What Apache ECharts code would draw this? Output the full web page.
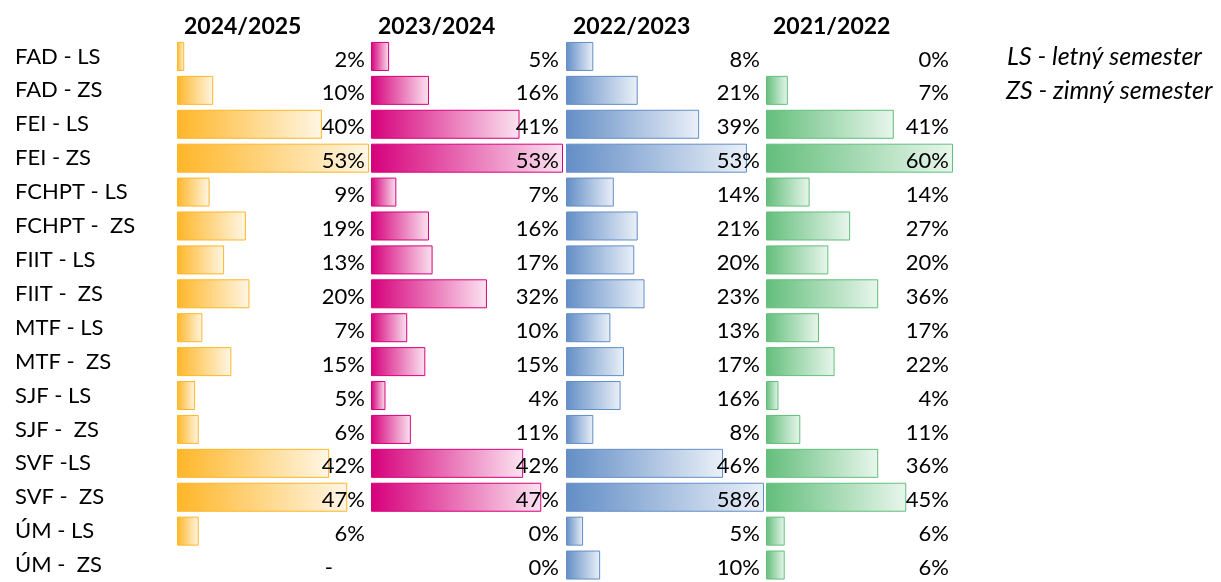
<!DOCTYPE html>
<html>
<head>
<meta charset="utf-8">
<script src="https://cdn.jsdelivr.net/npm/echarts@6/dist/echarts.min.js"></script>
<style>
  html, body { margin: 0; padding: 0; background: #fff; }
  #chart { width: 1221px; height: 582px; }
</style>
</head>
<body>
<div id="chart"></div>
<script>
/* global echarts */
const categories = [
  'FAD - LS', 'FAD - ZS', 'FEI - LS', 'FEI - ZS', 'FCHPT - LS', 'FCHPT -  ZS',
  'FIIT - LS', 'FIIT -  ZS', 'MTF - LS', 'MTF -  ZS', 'SJF - LS', 'SJF -  ZS',
  'SVF -LS', 'SVF -  ZS', 'ÚM - LS', 'ÚM -  ZS'
];
const years = ['2024/2025', '2023/2024', '2022/2023', '2021/2022'];
const values2425 = [2, 10, 40, 53, 9, 19, 13, 20, 7, 15, 5, 6, 42, 47, 6, null];
const values2324 = [5, 16, 41, 53, 7, 16, 17, 32, 10, 15, 4, 11, 42, 47, 0, 0];
const values2223 = [8, 21, 39, 53, 14, 21, 20, 23, 13, 17, 16, 8, 46, 58, 5, 10];
const values2122 = [0, 7, 41, 60, 14, 27, 20, 36, 17, 22, 4, 11, 36, 45, 6, 6];
const notes = ['LS - letný semester', 'ZS - zimný semester'];

const FONT = 'Lato';
const panels = [
  { data: values2425, left: 177, width: 192, color: '#FFB628', light: '#FFF6E4' },
  { data: values2324, left: 371, width: 192, color: '#D6007B', light: '#FBE3F0' },
  { data: values2223, left: 566, width: 198, color: '#638EC6', light: '#EAF0F8' },
  { data: values2122, left: 766, width: 187, color: '#63BE7B', light: '#E8F6EC' }
];

const chart = echarts.init(document.getElementById('chart'));

const grids = [];
const xAxes = [];
const yAxes = [];
const series = [];
const titles = [];

panels.forEach((p, i) => {
  const max = Math.max(...p.data.filter(v => v !== null));
  grids.push({ left: p.left, width: p.width, top: 39.5, height: 548.8 });
  xAxes.push({ gridIndex: i, type: 'value', min: 0, max: max, show: false });
  yAxes.push({
    gridIndex: i,
    type: 'category',
    inverse: true,
    data: categories,
    axisLine: { show: false },
    axisTick: { show: false },
    axisLabel: {
      show: i === 0,
      align: 'left',
      margin: 162,
      fontFamily: FONT,
      fontSize: 22,
      color: '#000',
      padding: [6, 0, 0, 0]
    }
  });
  // the coloured data bars (no bar for 0 or missing values)
  series.push({
    type: 'bar',
    xAxisIndex: i,
    yAxisIndex: i,
    barWidth: 29,
    data: p.data.map(v => (v ? v : '-')),
    itemStyle: {
      color: new echarts.graphic.LinearGradient(0, 0, 1, 0, [
        { offset: 0, color: p.color },
        { offset: 1, color: p.light }
      ]),
      borderColor: p.color,
      borderWidth: 1
    },
    silent: true,
    z: 2
  });
  // invisible full-width bars carrying the right-aligned value labels
  series.push({
    type: 'bar',
    xAxisIndex: i,
    yAxisIndex: i,
    barWidth: 29,
    barGap: '-100%',
    data: p.data.map(() => max),
    itemStyle: { color: 'rgba(0,0,0,0)' },
    label: {
      show: true,
      position: 'insideRight',
      distance: 4,
      fontFamily: FONT,
      fontSize: 22,
      color: '#000',
      padding: [6, 0, 0, 0],
      formatter: params => {
        const v = p.data[params.dataIndex];
        return v === null ? '{dash|-}' : v + '%';
      },
      rich: {
        dash: { fontFamily: FONT, fontSize: 22, color: '#000', padding: [0, 32, 0, 0] }
      }
    },
    silent: true,
    z: 3
  });
  titles.push({
    text: years[i],
    left: p.left + 2,
    top: 10,
    textStyle: { fontFamily: FONT, fontSize: 23, fontWeight: 'bold', color: '#000' }
  });
});

const option = {
  animation: false,
  backgroundColor: '#fff',
  title: titles,
  grid: grids,
  xAxis: xAxes,
  yAxis: yAxes,
  series: series,
  graphic: notes.map((t, k) => ({
    type: 'text',
    left: 1007 - k,
    top: 44 + k * 34,
    style: {
      text: t,
      font: 'italic 25px ' + FONT,
      fill: '#000'
    }
  }))
};

chart.setOption(option);
</script>
</body>
</html>
